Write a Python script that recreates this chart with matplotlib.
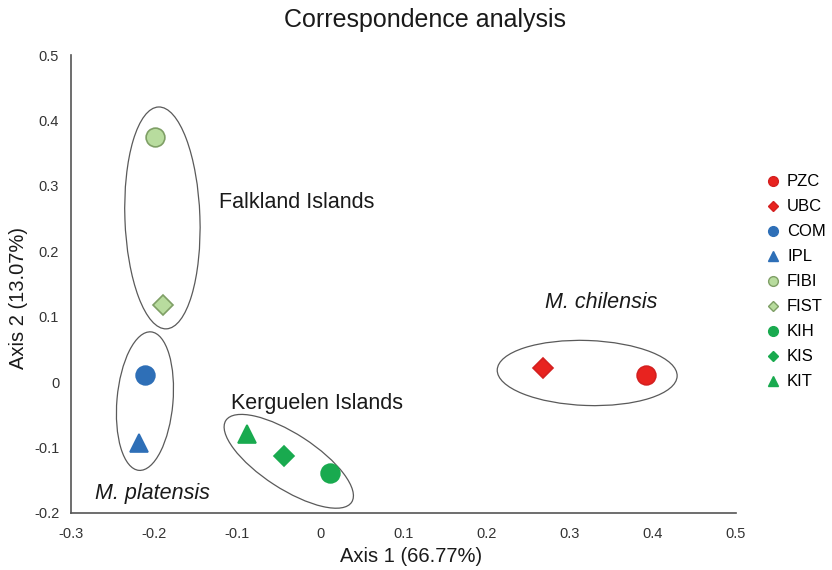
import matplotlib
matplotlib.use("Agg")
import matplotlib.pyplot as plt
import numpy as np
from matplotlib.lines import Line2D
from matplotlib.patches import Ellipse
from matplotlib.transforms import ScaledTranslation

plt.rcParams['font.family'] = ['Liberation Sans', 'DejaVu Sans']

# ---- data ----
labels = ["PZC", "UBC", "COM", "IPL", "FIBI", "FIST", "KIH", "KIS", "KIT"]
axis1 = [0.392, 0.268, -0.211, -0.218, -0.199, -0.189, 0.012, -0.044, -0.088]
axis2 = [0.011, 0.021, 0.011, -0.093, 0.374, 0.118, -0.139, -0.113, -0.080]
markers = ["o", "D", "o", "^", "o", "D", "o", "D", "^"]
fills = ["#e8231f", "#e8231f", "#2e6fb7", "#2e6fb7", "#b8dc9e", "#b8dc9e",
         "#19aa4f", "#19aa4f", "#19aa4f"]
edges = ["#d42020", "#d42020", "#2e6fb7", "#2e6fb7", "#7f9f66", "#7f9f66",
         "#19aa4f", "#19aa4f", "#19aa4f"]

xticks = [-0.3, -0.2, -0.1, 0, 0.1, 0.2, 0.3, 0.4, 0.5]
yticks = [-0.2, -0.1, 0, 0.1, 0.2, 0.3, 0.4, 0.5]

# group ellipses: centre (data), width/height (pixels), angle (deg)
groups = [
    dict(cx=-0.190, cy=0.251, w=75, h=222, ang=2),
    dict(cx=-0.211, cy=-0.029, w=56, h=139, ang=-5),
    dict(cx=-0.038, cy=-0.121, w=150, h=55, ang=-33),
    dict(cx=0.321, cy=0.014, w=180, h=65, ang=-2),
]
group_texts = [
    dict(x=-0.122, y=0.274, s="Falkland Islands", style="normal", ha="left"),
    dict(x=0.338, y=0.121, s="M. chilensis", style="italic", ha="center"),
    dict(x=-0.107, y=-0.032, s="Kerguelen Islands", style="normal", ha="left"),
    dict(x=-0.271, y=-0.170, s="M. platensis", style="italic", ha="left"),
]

fig = plt.figure(figsize=(8.32, 5.70), dpi=100)
ax = fig.add_axes([0.0853, 0.1, 0.7993, 0.8035])

msize = {"o": 13.5, "D": 10.2, "^": 13.5}
for x, y, m, f, e in zip(axis1, axis2, markers, fills, edges):
    ax.plot([x], [y], marker=m, markersize=msize[m], markerfacecolor=f,
            markeredgecolor=e, markeredgewidth=1.2, linestyle="none", zorder=3)

for g in groups:
    tr = fig.dpi_scale_trans + ScaledTranslation(g["cx"], g["cy"], ax.transData)
    el = Ellipse((0, 0), g["w"] / 100.0, g["h"] / 100.0, angle=g["ang"],
                 transform=tr, facecolor="none", edgecolor="#5a5a5a", lw=0.9,
                 zorder=2)
    ax.add_patch(el)

for t in group_texts:
    ax.text(t["x"], t["y"], t["s"], fontsize=15.5, fontstyle=t["style"],
            ha=t["ha"], va="center", color="#1a1a1a")

ax.set_xlim(-0.3, 0.5)
ax.set_ylim(-0.2, 0.5)
ax.set_xticks(xticks)
ax.set_yticks(yticks)
ax.set_xticklabels([f"{v:g}" for v in xticks])
ax.set_yticklabels([f"{v:g}" for v in yticks])
ax.tick_params(length=0, labelsize=10.5, colors="#333333", pad=8.5)
ax.tick_params(axis="x", pad=10)
for s in ["top", "right"]:
    ax.spines[s].set_visible(False)
for s in ["left", "bottom"]:
    ax.spines[s].set_color("#555555")
    ax.spines[s].set_linewidth(1.2)

ax.set_xlabel("Axis 1 (66.77%)", fontsize=14.5, color="#1a1a1a")
ax.set_ylabel("Axis 2 (13.07%)", fontsize=14.5, color="#1a1a1a")
ax.xaxis.set_label_coords(0.511, -0.075)
ax.yaxis.set_label_coords(-0.065, 0.469)

fig.text(0.511, 0.965, "Correspondence analysis", fontsize=18, ha="center",
         va="center", color="#1a1a1a")

lmsize = {"o": 7, "D": 5.5, "^": 7}
handles = [Line2D([], [], marker=m, markersize=lmsize[m], markerfacecolor=f,
                  markeredgecolor=e, markeredgewidth=1.0, linestyle="none")
           for m, f, e in zip(markers, fills, edges)]
leg = fig.legend(handles, labels, loc="upper left",
                 bbox_to_anchor=(0.921, 0.694), frameon=False, fontsize=12,
                 handlelength=0.8, handletextpad=0.45, labelspacing=0.6,
                 borderaxespad=0, borderpad=0)

fig.savefig("out.png", dpi=100, facecolor="white")
